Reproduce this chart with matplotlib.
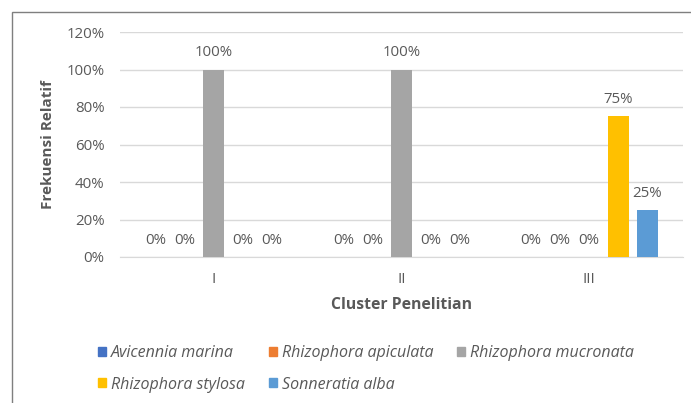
import matplotlib
matplotlib.use("Agg")
import matplotlib.pyplot as plt
from matplotlib.patches import Patch, Rectangle
import numpy as np

plt.rcParams['font.family'] = ['Open Sans', 'DejaVu Sans']

clusters = ['I', 'II', 'III']
species = ['Avicennia marina', 'Rhizophora apiculata', 'Rhizophora mucronata',
           'Rhizophora stylosa', 'Sonneratia alba']
values = [
    [0.00, 0.00, 0.00],   # Avicennia marina
    [0.00, 0.00, 0.00],   # Rhizophora apiculata
    [1.00, 1.00, 0.00],   # Rhizophora mucronata
    [0.00, 0.00, 0.75],   # Rhizophora stylosa
    [0.00, 0.00, 0.25],   # Sonneratia alba
]
colors = ['#4472C4', '#ED7D31', '#A5A5A5', '#FFC000', '#5B9BD5']
yticks = [0, 0.2, 0.4, 0.6, 0.8, 1.0, 1.2]

txt = '#595959'

fig = plt.figure(figsize=(6.91, 4.03), dpi=100)
ax = fig.add_axes([120/691, 1-257/403, 563/691, 225/403])

x = np.arange(len(clusters))
step = 0.1545
width = 0.112
handles = []
for i, (name, vals, c) in enumerate(zip(species, values, colors)):
    pos = x + (i - 2) * step
    bars = ax.bar(pos, vals, width=width, color=c, zorder=3)
    for b, v in zip(bars, vals):
        ax.annotate(f'{v:.0%}', (b.get_x() + b.get_width()/2, v),
                    xytext=(0, 12), textcoords='offset points',
                    ha='center', va='center', fontsize=10.8, color=txt)
    handles.append(Patch(color=c, label=name))

ax.set_xlim(-0.5, 2.5)
ax.set_ylim(0, 1.2)
ax.set_yticks(yticks)
ax.set_yticklabels([f'{t:.0%}' for t in yticks])
ax.set_xticks(x)
ax.set_xticklabels(clusters)
ax.tick_params(axis='both', length=0, labelsize=10.8, colors=txt)
ax.tick_params(axis='y', pad=11)
ax.tick_params(axis='x', pad=11)
ax.grid(axis='y', color='#D9D9D9', linewidth=1, zorder=0)
for s in ['top', 'right', 'left']:
    ax.spines[s].set_visible(False)
ax.spines['bottom'].set_color('#D9D9D9')

ax.set_xlabel('Cluster Penelitian', fontsize=11.3, fontweight='bold', color=txt, labelpad=7)
ax.set_ylabel('Frekuensi Relatif', fontsize=11, fontweight='bold', color=txt, labelpad=8)

order = [0, 3, 1, 4, 2]
leg = fig.legend([handles[k] for k in order], [species[k] for k in order],
                 ncol=3, loc='center', bbox_to_anchor=(366/691, 1-369/403),
                 frameon=False, fontsize=11.5, handlelength=0.5, handleheight=0.5,
                 handletextpad=0.3, columnspacing=1.5, labelspacing=0.95)
for t in leg.get_texts():
    t.set_color(txt)
    t.set_fontstyle('italic')

# outer chart border (cropped on right and bottom)
fig.patches.append(Rectangle((12/691, -0.1), 1.0, 1 - 12/403 + 0.1,
                             transform=fig.transFigure, fill=False,
                             edgecolor='#7F7F7F', linewidth=1))

fig.savefig('out.png', dpi=100)
